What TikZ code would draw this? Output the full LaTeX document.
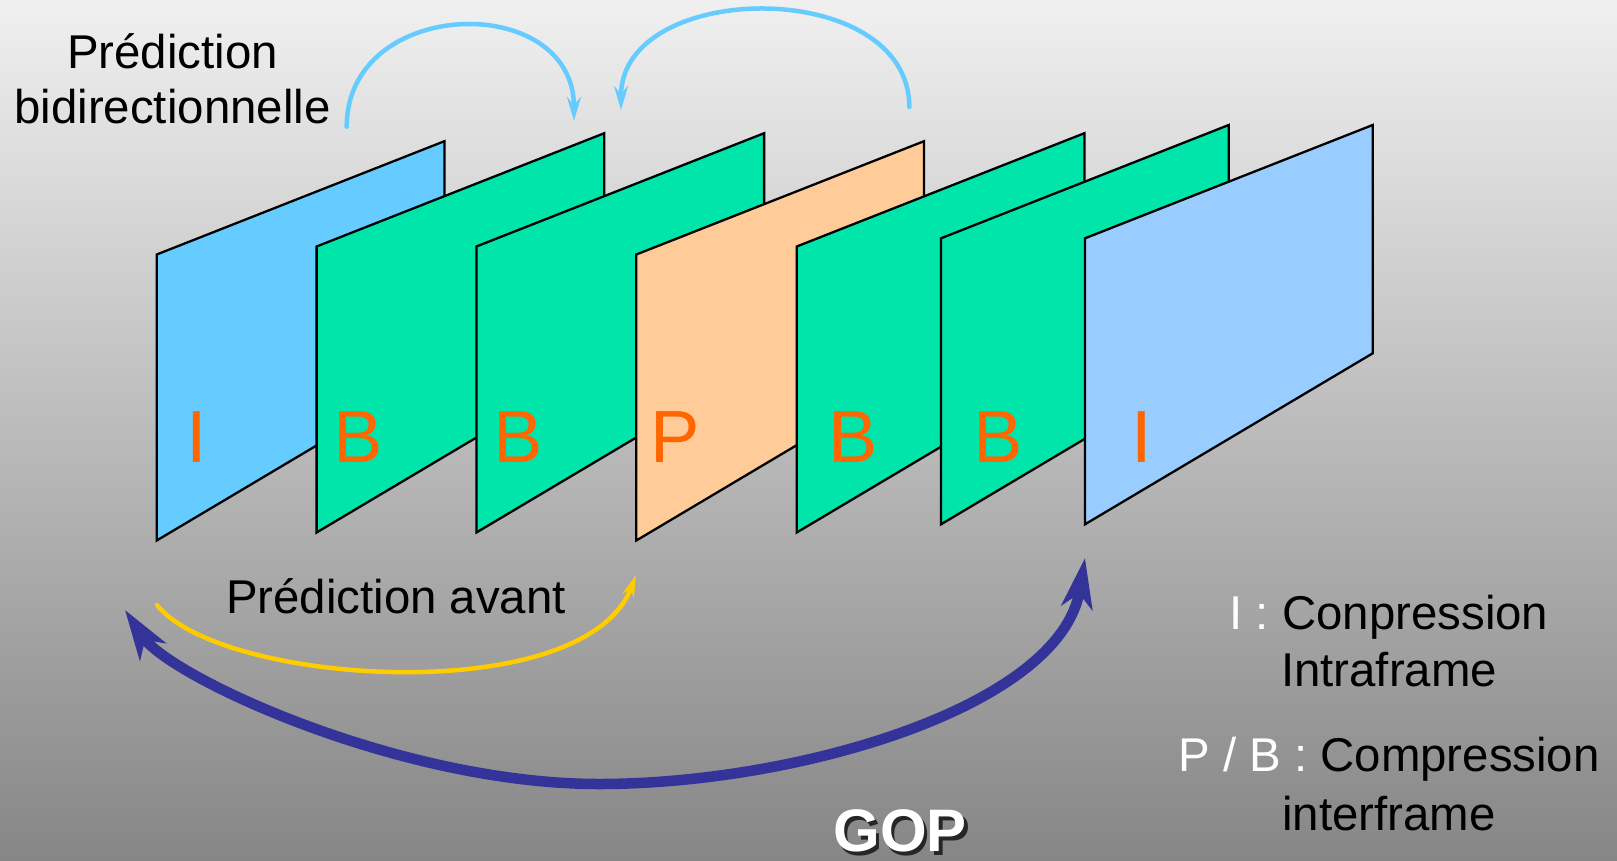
\documentclass[tikz,border=0pt]{standalone}
\usepackage{fontspec}
\setmainfont{Liberation Sans}
\usetikzlibrary{arrows.meta}
\definecolor{bgtop}{RGB}{240,240,240}
\definecolor{bgbot}{RGB}{134,134,134}
\definecolor{iblue}{RGB}{102,204,255}
\definecolor{ilight}{RGB}{153,204,255}
\definecolor{bgreen}{RGB}{0,229,170}
\definecolor{porange}{RGB}{255,204,153}
\definecolor{lblor}{RGB}{255,102,0}
\definecolor{avyel}{RGB}{255,204,0}
\definecolor{gopblue}{RGB}{51,51,153}

\begin{document}
\begin{tikzpicture}[x=1pt, y=-1pt,
  frm/.style={draw=black, line width=2.3pt, line join=miter},
  flbl/.style={font=\fontsize{74}{74}\selectfont, text=lblor, inner sep=0pt},
  txt/.style={font=\fontsize{47.4}{57}\selectfont, inner sep=0pt, anchor=base},
  gop/.style={font=\fontsize{60}{60}\selectfont\bfseries, inner sep=0pt, anchor=base},
  biarr/.style={iblue, line width=4.5pt, line cap=round, -{Stealth[length=24pt,width=14pt,inset=8pt]}},
  avarr/.style={avyel, line width=4.5pt, line cap=round, -{Stealth[length=22pt,width=12pt,inset=7pt]}},
  goparr/.style={gopblue, line width=10.5pt, {Stealth[length=50pt,width=31pt,inset=14pt]}-{Stealth[length=50pt,width=31pt,inset=14pt]}},
]
  % --- background ---
  \shade[top color=bgtop, bottom color=bgbot] (0,0) rectangle (1617,860);
  \useasboundingbox (0,0) rectangle (1617,860);

  % --- frames, back to front ---
  \filldraw[frm, fill=iblue] (156.7,254.5) -- ++(287.7,-113.3) -- ++(0,228.3) -- ++(-287.7,171) -- cycle;
  \filldraw[frm, fill=bgreen] (316.6,246.5) -- ++(287.7,-113.3) -- ++(0,228.3) -- ++(-287.7,171) -- cycle;
  \filldraw[frm, fill=bgreen] (476.4,246.5) -- ++(287.7,-113.3) -- ++(0,228.3) -- ++(-287.7,171) -- cycle;
  \filldraw[frm, fill=porange] (636.3,254.5) -- ++(287.7,-113.3) -- ++(0,228.3) -- ++(-287.7,171) -- cycle;
  \filldraw[frm, fill=bgreen] (796.7,246.5) -- ++(287.7,-113.3) -- ++(0,228.3) -- ++(-287.7,171) -- cycle;
  \filldraw[frm, fill=bgreen] (941,238.3) -- ++(287.7,-113.3) -- ++(0,228.3) -- ++(-287.7,171) -- cycle;
  \filldraw[frm, fill=ilight] (1085,238.3) -- ++(287.7,-113.3) -- ++(0,228.3) -- ++(-287.7,171) -- cycle;

  % --- frame types ---
  \node[flbl] (f1) at (196.7,437) {I};
  \node[flbl] (f2) at (358,437) {B};
  \node[flbl] (f3) at (518,437) {B};
  \node[flbl] (f4) at (675.4,437) {P};
  \node[flbl] (f5) at (853.3,437) {B};
  \node[flbl] (f6) at (998.3,437) {B};
  \node[flbl] (f7) at (1141.5,437) {I};

  % --- arc ends ---
  \coordinate (bi1s) at (346.7,126.7);
  \coordinate (bi1e) at (574,121);
  \coordinate (bi2s) at (909.3,107);
  \coordinate (bi2e) at (621,110);
  \coordinate (avs) at (157,605);
  \coordinate (ave) at (636,575);
  \coordinate (gs) at (125,610);
  \coordinate (gbot) at (599,784);
  \coordinate (ge) at (1085,558);

  % --- predictions ---
  \draw[biarr] (bi1s) .. controls +(0,-130.5) and +(0,-130.5) .. (bi1e);
  \draw[biarr] (bi2s) .. controls +(0,-131) and +(0,-131) .. (bi2e);
  \draw[avarr] (avs) .. controls (220,685) and (585,710) .. (ave);
  \draw[goparr] (gs) .. controls +(44.4,66.6) and +(-200,0) .. (gbot)
    .. controls +(200,0) and +(-24.1,148) .. (ge);

  % --- texts ---
  \node[txt] (bid1) at (172.5,68.3) {Prédiction};
  \node[txt] (bid2) at (172.5,123.3) {bidirectionnelle};
  \node[txt] (avant) at (396,613) {Prédiction avant};
  \node[txt] (legi1) at (1389,629) {\textcolor{white}{I :} Conpression};
  \node[txt] (legi2) at (1389,686.7) {Intraframe};
  \node[txt] (legpb1) at (1389,771.7) {\textcolor{white}{P / B :} Compression};
  \node[txt] (legpb2) at (1389,830) {interframe};
  \node[gop, text=black!85] (gopsh) at (903.5,855) {GOP};
  \node[gop, text=white] (gopt) at (900,851.5) {GOP};
\end{tikzpicture}
\end{document}
